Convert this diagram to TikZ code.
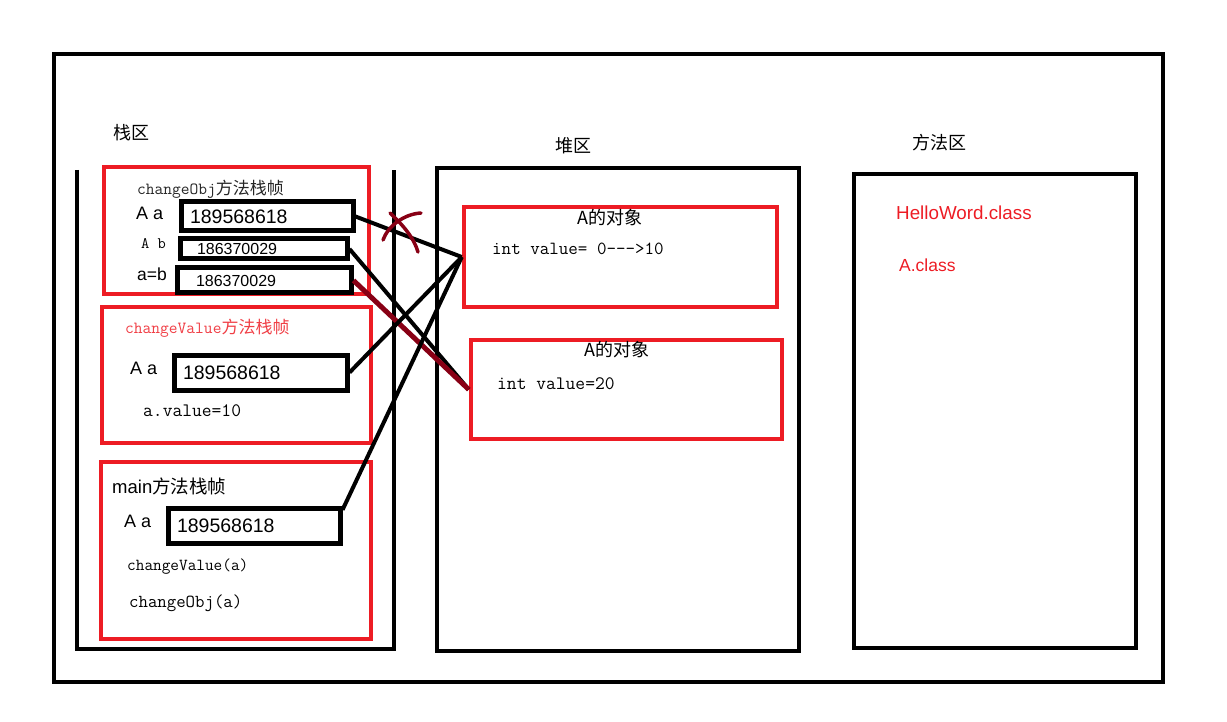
\documentclass[tikz,border=0pt]{standalone}
\usepackage{fontspec}
\setmainfont{Liberation Sans}
\newfontfamily\cjk{Noto Sans CJK SC}
\usetikzlibrary{positioning}
\definecolor{paintred}{HTML}{ED1C24}
\definecolor{paintdark}{HTML}{880015}
\newcommand{\fsz}[1]{\fontsize{#1}{#1}\selectfont}

\begin{document}
\begin{tikzpicture}[x=1pt, y=-1pt,
    area/.style={draw, line width=4.5pt},
    frame/.style={draw=paintred, line width=4pt},
    valbox/.style={draw, line width=5pt, inner ysep=0pt, align=left},
    objbox/.style={draw=paintred, line width=4.5pt, inner sep=0pt},
    txt/.style={anchor=west, inner sep=0pt},
    ref/.style={line width=4pt}]
    \useasboundingbox (0,0) rectangle (1227,722);

    % Outer border
    \draw[area] (54,54) rectangle (1163,682);

    % Stack
    \node[txt, font=\cjk\fsz{18}] (stackname) at (113,133) {栈区};
    \draw[area] (77,170) -- (77,649) -- (394,649) -- (394,170);

    % changeObj frame
    \draw[frame] (104,167) rectangle (369,294);
    \node[txt, font=\fsz{17}, text=black!85] (objtitle) at (137,189) {\ttfamily changeObj\cjk 方法栈帧};
    \node[txt, font=\fsz{18}] (objvara) at (136,213) {A a};
    \node[txt, font=\ttfamily\fsz{16}] (objvarb) at (141,244) {A b};
    \node[txt, font=\fsz{17.5}] (objassign) at (137,274) {a=b};
    \node[valbox, font=\fsz{19.5}, minimum height=29pt, inner xsep=9pt, text width=154pt] (objboxa) at (267,216.5) {189568618};
    \node[valbox, font=\fsz{16}, minimum height=20pt, inner xsep=17pt, text width=133pt] (objboxb) at (263.5,249) {186370029};
    \node[valbox, font=\fsz{16}, minimum height=25pt, inner xsep=19pt, text width=136pt] (objboxc) at (264,280.5) {186370029};

    % changeValue frame
    \draw[frame] (102,307) rectangle (371,443);
    \node[txt, font=\fsz{17}, text=paintred!85!white] (valtitle) at (125,328) {\ttfamily changeValue\cjk 方法栈帧};
    \node[txt, font=\fsz{18}] (valvara) at (130,368) {A a};
    \node[valbox, font=\fsz{19.5}, minimum height=35pt, inner xsep=9pt, text width=155pt] (valboxa) at (260.5,372.5) {189568618};
    \node[txt, font=\ttfamily\fsz{19}] (valset) at (143,411) {a.value=10};

    % main frame
    \draw[frame] (101,462) rectangle (371,639);
    \node[txt, font=\fsz{18.5}] (maintitle) at (112,486) {main\cjk 方法栈帧};
    \node[txt, font=\fsz{18}] (mainvara) at (124,521) {A a};
    \node[valbox, font=\fsz{19.5}, minimum height=35pt, inner xsep=9pt, text width=154pt] (mainboxa) at (254,525.5) {189568618};
    \node[txt, font=\ttfamily\fsz{16.8}] (maincallv) at (127,567) {changeValue(a)};
    \node[txt, font=\ttfamily\fsz{18.3}] (maincallo) at (129,603) {changeObj(a)};

    % Heap
    \node[txt, font=\cjk\fsz{18}] (heapname) at (555,146) {堆区};
    \draw[area] (437,168) rectangle (799,651);
    \node[objbox, minimum width=313pt, minimum height=100pt] (objfirst) at (620.5,257) {};
    \node[font=\cjk\fsz{18}, inner sep=0pt] (firsttitle) at (610,218) {A的对象};
    \node[txt, font=\ttfamily\fsz{18.5}] (firstval) at (492,249) {int value= 0--->10};
    \node[objbox, minimum width=311pt, minimum height=99pt] (objsecond) at (626.5,389.5) {};
    \node[font=\cjk\fsz{18}, inner sep=0pt] (secondtitle) at (617,350) {A的对象};
    \node[txt, font=\ttfamily\fsz{19}] (secondval) at (497,384) {int value=20};

    % Method area
    \node[txt, font=\cjk\fsz{18}] (methodname) at (912,143) {方法区};
    \draw[area] (854,174) rectangle (1136,648);
    \node[txt, font=\fsz{18.8}, text=paintred] (helloclass) at (896,213) {HelloWord.class};
    \node[txt, font=\fsz{17.5}, text=paintred] (aclass) at (899,265) {A.class};

    % References
    \draw[ref] (objboxa.east) -- (objfirst.west);
    \draw[ref] (objboxb.east) -- (objsecond.west);
    \draw[ref, draw=paintdark, line width=5pt] (objboxc.east) -- (objsecond.west);
    \draw[ref] (valboxa.east) -- (objfirst.west);
    \draw[ref] (mainboxa.10) -- (objfirst.west);

    % Cross-out
    \draw[paintdark, line width=3.5pt, line cap=round] (383,240) .. controls (388,226) and (404,214) .. (421,213);
    \draw[paintdark, line width=3.5pt, line cap=round] (390,213) .. controls (403,225) and (414,238) .. (418,252);
\end{tikzpicture}
\end{document}
